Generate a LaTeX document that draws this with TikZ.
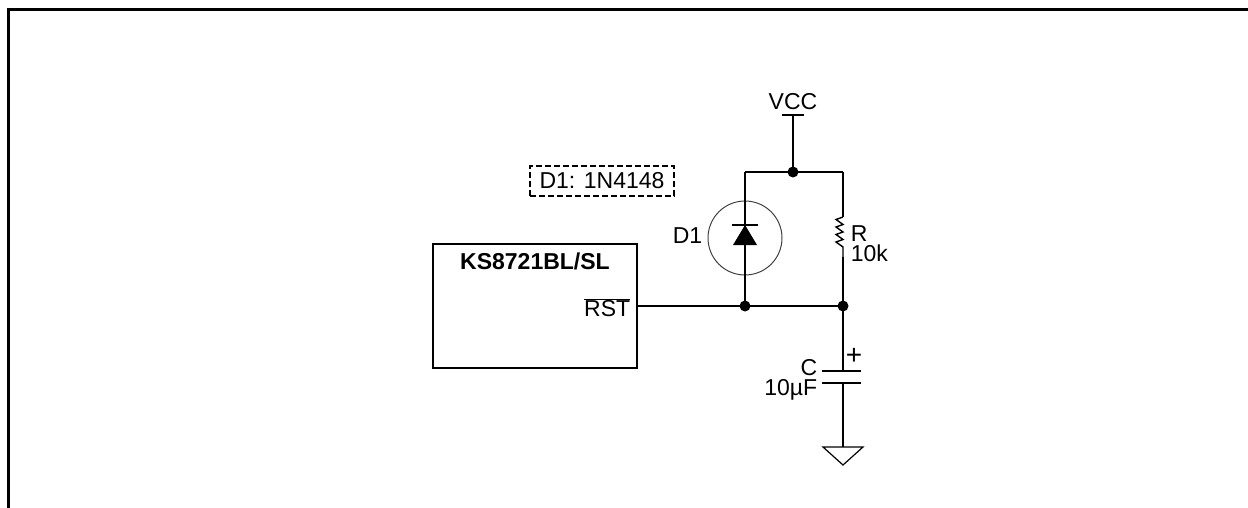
\documentclass[tikz,border=0pt]{standalone}
\usepackage{fontspec}
\setmainfont{Liberation Sans}
\usetikzlibrary{positioning, calc}

\begin{document}
\begin{tikzpicture}[x=1pt, y=-1pt, line width=1.7pt,
        dot/.style={circle, fill=black, inner sep=0pt, minimum size=11pt},
        lbl/.style={font=\fontsize{23}{20}\selectfont, inner sep=1pt}]
            \def\wirex{843}
            \def\diodex{745}
            \def\rsty{306}

            \useasboundingbox (0,0) rectangle (1248,508);

            % frame
            \draw[line width=3pt] (8,508) -- (8,9.5) -- (1248,9.5);

            % chip
            \node[draw, minimum width=204pt, minimum height=124pt] (chip) at (535,\rsty) {};
            \node[lbl, font=\fontsize{23}{26}\selectfont\bfseries] (chipname) at (535,261) {KS8721BL/SL};
            \node[lbl, anchor=east] (rst) at (632,308) {$\overline{\mbox{RST}}$};

            \coordinate (vcc) at (793,115);
            \coordinate (top) at (793,172);
            \coordinate (topL) at (\diodex,172);
            \coordinate (topR) at (\wirex,172);
            \coordinate (rstD) at (\diodex,\rsty);
            \coordinate (rstR) at (\wirex,\rsty);
            \coordinate (rtop) at (\wirex,217);
            \coordinate (rbot) at (\wirex,257);
            \coordinate (cpos) at (\wirex,371);
            \coordinate (cneg) at (\wirex,383);
            \coordinate (gnd) at (\wirex,447);
            \coordinate (dk) at (\diodex,225);

            % supply
            \node[lbl] (vcclbl) at (793,102) {VCC};
            \draw ([xshift=-11pt]vcc) -- ([xshift=11pt]vcc);
            \draw (vcc) -- (top);
            \draw (topL) -- (topR);

            % diode
            \node[draw=black!75, circle, line width=1pt, minimum size=74pt] (d1) at (\diodex,238) {};
            \node[lbl, anchor=east] (d1lbl) at (704,236) {D1};
            \draw (topL) -- (rstD);
            \fill (dk) -- ++(-12,20) -- ++(24,0) -- cycle;
            \draw (dk) ++(-13,0) -- ++(26,0);
            \node[lbl, draw, dashed, dash pattern=on 6pt off 3pt, line width=1.3pt,
                minimum width=144pt, minimum height=30pt] (part) at (602,181) {D1: 1N4148};

            % resistor
            \draw (topR) -- (rtop);
            \draw[line width=1.4pt] (rtop)
                \foreach \k in {0,...,3} { -- ++(-7,2.5) -- ++(7,5) } -- (rbot);
            \node[lbl, anchor=north west, align=left] (rlbl) at (849,224) {R\\10k};
            \draw (rbot) -- (rstR);

            % reset line
            \draw (chip.east |- rstD) -- (rstD) -- (rstR);

            % capacitor
            \draw (rstR) -- (cpos);
            \draw ([xshift=-21pt]cpos) -- ([xshift=18pt]cpos);
            \draw ([xshift=-21pt]cneg) -- ([xshift=18pt]cneg);
            \node[lbl, font=\fontsize{28}{28}\selectfont] (plus) at (854,356) {+};
            \node[lbl, anchor=north east, align=right] (clbl) at (819,358) {C\\10µF};
            \draw (cneg) -- (gnd);

            % ground
            \draw[line width=1.2pt] ([xshift=-20pt]gnd) -- ([xshift=20pt]gnd) -- ([yshift=-18pt]gnd) -- cycle;

            % junctions
            \foreach \point in {top, rstD, rstR}{
                \node[dot] at (\point) {};
            }
        \end{tikzpicture}
\end{document}
